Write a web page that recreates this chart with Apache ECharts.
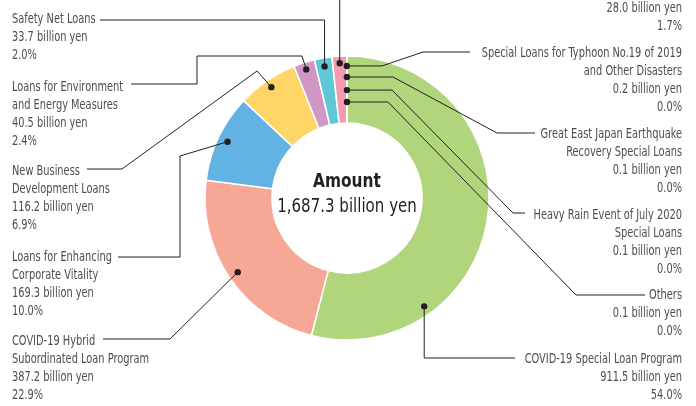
<!DOCTYPE html>
<html><head><meta charset="utf-8">
<script src="https://cdn.jsdelivr.net/npm/echarts@6/dist/echarts.min.js"></script>
<style>html,body{margin:0;padding:0;background:#fff}#c{width:696px;height:406px}</style>
</head><body><div id="c"></div>
<script>
// ---- data ----
const categories = [
  'COVID-19 Special Loan Program',
  'COVID-19 Hybrid\nSubordinated Loan Program',
  'Loans for Enhancing\nCorporate Vitality',
  'New Business\nDevelopment Loans',
  'Loans for Environment\nand Energy Measures',
  'Safety Net Loans',
  'Business Succession Support Loans',
  'Special Loans for Typhoon No.19 of 2019\nand Other Disasters',
  'Great East Japan Earthquake\nRecovery Special Loans',
  'Heavy Rain Event of July 2020\nSpecial Loans',
  'Others'
];
const values = [911.5, 387.2, 169.3, 116.2, 40.5, 33.7, 28.0, 0.2, 0.1, 0.1, 0.1];
const percents = ['54.0%', '22.9%', '10.0%', '6.9%', '2.4%', '2.0%', '1.7%', '0.0%', '0.0%', '0.0%', '0.0%'];
const totalAmount = '1,687.3';
const centerTitle = 'Amount';
const unit = 'billion yen';

// ---- styles / layout ----
const colors = ['#b0d57b', '#f6a795', '#62b2e3', '#fed567', '#d096c6', '#5ec8d9', '#f49bb0', '#f49bb0', '#f49bb0', '#f49bb0', '#f49bb0'];
const FONT = '"DejaVu Sans Condensed", "Liberation Sans", sans-serif';
const TEXT_SCALE = 0.78;
// label placement: x/y = label anchor, dotAt = fraction along slice, dotR = fraction of outer radius,
// path = bend points after the dot ('dot' = reuse the dot coordinate)
const labelLayouts = [
  {x: 682, y: 350.5, align: 'right', dotAt: 0.743, dotR: 0.937, path: [['dot', 358], [515, 358]]},
  {x: 12, y: 332, align: 'left', dotAt: 0.5, dotR: 0.93, path: [[170, 339], [103, 339]]},
  {x: 12, y: 248, align: 'left', dotAt: 0.5, dotR: 0.93, path: [[180, 156], [180, 257], [118, 257]]},
  {x: 12, y: 162.5, align: 'left', dotAt: 0.5, dotR: 0.945, path: [[257, 71], [122, 169], [87, 169]]},
  {x: 12, y: 78, align: 'left', dotAt: 0.5, dotR: 0.95, path: [[302, 56], [197, 56], [197, 84], [131, 84]]},
  {x: 12, y: 10.5, align: 'left', dotAt: 0.5, dotR: 0.94, path: [['dot', 20], [100, 20]]},
  {x: 682, y: -18.7, align: 'right', dotAt: 0.5, dotR: 0.95, path: [['dot', -10], [470, -10]]},
  {x: 682, y: 44, align: 'right', dotAt: 0.5, dotR: 0.93, path: [[382, 'dot'], [423, 52], [470, 52]]},
  {x: 682, y: 125.5, align: 'right', dotAt: 0.5, dotR: 0.852, path: [[393, 'dot'], [497, 133], [535, 133]]},
  {x: 682, y: 206.5, align: 'right', dotAt: 0.5, dotR: 0.76, path: [[392, 'dot'], [513, 213], [525, 213]]},
  {x: 682, y: 286.5, align: 'right', dotAt: 0.5, dotR: 0.676, path: [[388, 'dot'], [576, 295], [645, 295]]}
];

const chart = echarts.init(document.getElementById('c'), null, {renderer: 'canvas'});

function dotPoint(i) {
  try {
    const lay = chart.getModel().getSeriesByIndex(0).getData().getItemLayout(i);
    if (!lay) return null;
    const L = labelLayouts[i];
    const a = lay.startAngle + (lay.endAngle - lay.startAngle) * L.dotAt;
    const r = lay.r * L.dotR;
    return [lay.cx + r * Math.cos(a), lay.cy + r * Math.sin(a)];
  } catch (e) { return null; }
}

chart.setOption({
  animation: false,
  color: colors,
  series: [{
    type: 'pie',
    silent: true,
    center: [347, 198],
    radius: [75, 142],
    startAngle: 90,
    clockwise: true,
    avoidLabelOverlap: false,
    itemStyle: {borderColor: '#fff', borderWidth: 1.5},
    label: {show: false},
    labelLine: {show: false},
    data: categories.map((n, i) => ({name: n, value: values[i]}))
  }]
});

// callouts: leader lines, dots and condensed label text, anchored on the pie's own layout
const elements = [
  {id: 'ct1', type: 'text', x: 347, y: 182, scaleX: 0.9, silent: true,
   style: {text: centerTitle, textAlign: 'center', textVerticalAlign: 'middle', fill: '#231f20',
           font: 'bold 19px ' + FONT}},
  {id: 'ct2', type: 'text', x: 347, y: 207, scaleX: 0.88, silent: true,
   style: {text: totalAmount + ' ' + unit, textAlign: 'center', textVerticalAlign: 'middle', fill: '#231f20',
           font: '19px ' + FONT}}
];
for (let i = 0; i < values.length; i++) {
  const L = labelLayouts[i];
  const d = dotPoint(i);
  if (d) {
    const pts = [[d[0], d[1]]];
    L.path.forEach(q => pts.push([q[0] === 'dot' ? d[0] : q[0], q[1] === 'dot' ? d[1] : q[1]]));
    elements.push({id: 'line' + i, type: 'polyline', silent: true, z: 90,
      shape: {points: pts}, style: {stroke: '#231f20', lineWidth: 1, fill: null}});
    elements.push({id: 'dot' + i, type: 'circle', silent: true, z: 100,
      shape: {cx: d[0], cy: d[1], r: 3.2}, style: {fill: '#231f20'}});
  }
  elements.push({id: 'lab' + i, type: 'text', silent: true, z: 100,
    x: L.x, y: L.y, scaleX: TEXT_SCALE,
    style: {
      text: categories[i] + '\n' + values[i].toFixed(1) + ' ' + unit + '\n' + percents[i],
      textAlign: L.align, textVerticalAlign: 'top', lineHeight: 18,
      fill: '#4d4d4d', font: '14px ' + FONT
    }});
}
chart.setOption({graphic: elements});
</script>
</body></html>
